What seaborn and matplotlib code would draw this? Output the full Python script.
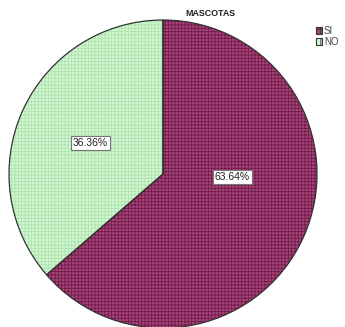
import matplotlib
matplotlib.use("Agg")
import matplotlib.pyplot as plt
import seaborn as sns
from matplotlib.patches import Patch

sns.set_style("white")
plt.rcParams['font.family'] = ['Liberation Sans', 'DejaVu Sans']
plt.rcParams['hatch.linewidth'] = 0.6

categories = ["SI", "NO"]
values = [63.64, 36.36]
face_colors = ["#a8447a", "#d2f7d2"]
hatch_colors = ["#6e1a48", "#aee2ae"]
title = "MASCOTAS"

fig = plt.figure(figsize=(3.45, 3.27), dpi=100)
ax = fig.add_axes([9/345, 1 - 328/327, 308/345, 308/327])

# hatched fill
wedges, _ = ax.pie(values, startangle=90, counterclock=False, colors=face_colors,
                   wedgeprops=dict(linewidth=0))
for w, hc in zip(wedges, hatch_colors):
    w.set_hatch("+++++")
    w.set_edgecolor(hc)
    w.set_linewidth(0)
# outline
wedges2, _ = ax.pie(values, startangle=90, counterclock=False,
                    wedgeprops=dict(fill=False, linewidth=0.9, edgecolor="#333333"))
ax.set_aspect("equal")
ax.set_xlim(-1, 1)
ax.set_ylim(-1, 1)
ax.axis("off")

# percentage labels
label_pos = [(0.45, -0.02), (-0.47, 0.20)]
for v, (x, y) in zip(values, label_pos):
    ax.text(x, y, f"{v:.2f}%", ha="center", va="center", fontsize=7.5, color="#222222",
            bbox=dict(boxstyle="square,pad=0.2", facecolor="white", edgecolor="#777777", linewidth=0.8))

fig.text(210/345, 1 - 13/327, title, ha="center", va="center", fontsize=6.4, fontweight="bold", color="#222222")

handles = [Patch(facecolor=fc, edgecolor="#333333", hatch="++", linewidth=0.8) for fc in face_colors]
leg = fig.legend(handles, categories, loc="upper left", bbox_to_anchor=(316/345, 1 - 26/327),
                 frameon=False, fontsize=7, handlelength=0.65, handleheight=0.65,
                 handletextpad=0.15, labelspacing=0.1, borderpad=0, borderaxespad=0)
for t in leg.get_texts():
    t.set_color("#444444")

fig.savefig("out.png", dpi=100)
